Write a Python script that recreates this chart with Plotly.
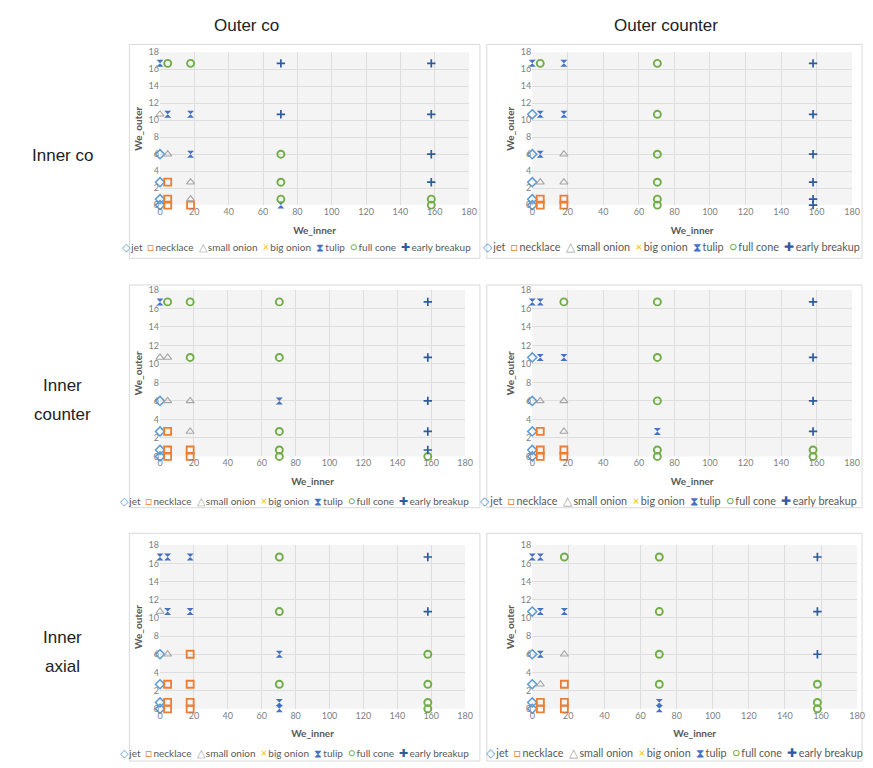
import plotly.graph_objects as go

W, H = 873, 768

# ---------------- data ----------------
we_inner = [0, 4.5, 17.8, 70.4, 158]          # x levels
we_outer = [0, 0.7, 2.7, 6.0, 10.7, 16.7]     # y levels
x_ticks = [0, 20, 40, 60, 80, 100, 120, 140, 160, 180]
y_ticks = [0, 2, 4, 6, 8, 10, 12, 14, 16, 18]

regimes = ["jet", "necklace", "small onion", "big onion", "tulip", "full cone", "early breakup"]

col_titles = ["Outer co", "Outer counter"]
row_titles = [["Inner co"], ["Inner", "counter"], ["Inner", "axial"]]

# rows: we_outer (low -> high), columns: we_inner
map_co_co = [
    ["jet", "necklace", "necklace", "tulip", "full cone"],
    ["jet", "necklace", "small onion", "full cone", "full cone"],
    ["jet", "necklace", "small onion", "full cone", "early breakup"],
    ["jet", "small onion", "tulip", "full cone", "early breakup"],
    ["small onion", "tulip", "tulip", "early breakup", "early breakup"],
    ["tulip", "full cone", "full cone", "early breakup", "early breakup"],
]
map_co_counter = [
    ["jet", "necklace", "necklace", "full cone", "early breakup"],
    ["jet", "necklace", "necklace", "full cone", "early breakup"],
    ["jet", "small onion", "small onion", "full cone", "early breakup"],
    ["jet", "tulip", "small onion", "full cone", "early breakup"],
    ["jet", "tulip", "tulip", "full cone", "early breakup"],
    ["tulip", "full cone", "tulip", "full cone", "early breakup"],
]
map_counter_co = [
    ["jet", "necklace", "necklace", "full cone", "full cone"],
    ["jet", "necklace", "necklace", "full cone", "early breakup"],
    ["jet", "necklace", "small onion", "full cone", "early breakup"],
    ["jet", "small onion", "small onion", "tulip", "early breakup"],
    ["small onion", "small onion", "full cone", "full cone", "early breakup"],
    ["tulip", "full cone", "full cone", "full cone", "early breakup"],
]
map_counter_counter = [
    ["jet", "necklace", "necklace", "full cone", "full cone"],
    ["jet", "necklace", "necklace", "full cone", "full cone"],
    ["jet", "necklace", "small onion", "tulip", "early breakup"],
    ["jet", "small onion", "small onion", "full cone", "early breakup"],
    ["jet", "tulip", "tulip", "full cone", "early breakup"],
    ["tulip", "tulip", "full cone", "full cone", "early breakup"],
]
map_axial_co = [
    ["jet", "necklace", "necklace", "tulip", "full cone"],
    ["jet", "necklace", "necklace", "tulip", "full cone"],
    ["jet", "necklace", "necklace", "full cone", "full cone"],
    ["jet", "small onion", "necklace", "tulip", "full cone"],
    ["small onion", "tulip", "tulip", "full cone", "early breakup"],
    ["tulip", "tulip", "tulip", "full cone", "early breakup"],
]
map_axial_counter = [
    ["jet", "necklace", "necklace", "tulip", "full cone"],
    ["jet", "necklace", "necklace", "tulip", "full cone"],
    ["jet", "small onion", "necklace", "full cone", "full cone"],
    ["jet", "tulip", "small onion", "full cone", "early breakup"],
    ["jet", "tulip", "tulip", "full cone", "early breakup"],
    ["tulip", "tulip", "full cone", "full cone", "early breakup"],
]

panels = [map_co_co, map_co_counter,
          map_counter_co, map_counter_counter,
          map_axial_co, map_axial_counter]

# ---------------- styles ----------------
style = {
    "jet":           dict(symbol="diamond-open",     color="#5B9BD5", size=7, lw=1.5),
    "necklace":      dict(symbol="square-open",      color="#ED7D31", size=7, lw=1.8),
    "small onion":   dict(symbol="triangle-up-open", color="#A5A5A5", size=7, lw=1.1),
    "big onion":     dict(symbol="x-thin-open",      color="#FFC000", size=7, lw=2.0),
    "tulip":         dict(symbol="hourglass",        color="#4472C4", size=7, lw=0),
    "full cone":     dict(symbol="circle-open",      color="#70AD47", size=7, lw=1.9),
    "early breakup": dict(symbol="cross-thin-open",  color="#2E5A9E", size=6, lw=1.7),
}
legend_glyph = {"jet": "◇", "necklace": "□", "small onion": "△", "big onion": "×",
                "tulip": "⧗", "full cone": "○", "early breakup": "✚"}

# panel pixel geometry: plot area (x0, x1, y_top, y_bottom) and outer box
plot_px = [(159, 472, 47, 202), (536, 860, 47, 202),
           (159, 468, 288, 457), (536, 860, 288, 457),
           (159, 468, 547, 713), (536, 865, 547, 713)]
box_px = [(128, 483, 39, 256), (490, 870, 39, 256),
          (128, 483, 283, 509), (490, 870, 283, 509),
          (128, 483, 535, 766), (490, 870, 535, 766)]
legend_px = [(297, 244), (677, 244), (295, 502), (674, 502), (295, 757), (680, 757)]
legend_size = [10, 10.8, 10, 10.8, 10, 10.8]

FONT = "Lato, 'Open Sans', sans-serif"
fig = go.Figure()
layout = dict(width=W, height=H, margin=dict(l=0, r=0, t=0, b=0),
              paper_bgcolor="white", plot_bgcolor="#f4f4f4", showlegend=False)
shapes, annotations = [], []

for i, grid in enumerate(panels):
    k = i + 1
    xa = "x" if k == 1 else f"x{k}"
    ya = "y" if k == 1 else f"y{k}"
    for reg in regimes:
        xs, ys = [], []
        for r, row in enumerate(grid):
            for c, val in enumerate(row):
                if val == reg:
                    xs.append(we_inner[c])
                    ys.append(we_outer[r])
        s = style[reg]
        fig.add_trace(go.Scatter(
            x=xs, y=ys, mode="markers", name=reg, xaxis=xa, yaxis=ya,
            cliponaxis=False, showlegend=False,
            marker=dict(symbol=s["symbol"], size=s["size"], color=s["color"],
                        line=dict(color=s["color"], width=s["lw"]))))
    x0, x1, yt, yb = plot_px[i]
    axis_common = dict(showgrid=True, gridcolor="#dedede", gridwidth=1, zeroline=False,
                       showline=False, ticks="", tickfont=dict(family=FONT, size=9, color="#808080"))
    layout["xaxis" if k == 1 else f"xaxis{k}"] = dict(
        domain=[x0 / W, x1 / W], anchor=ya, range=[0, 180], tickvals=x_ticks,
        title=dict(text="<b>We_inner</b>", font=dict(family=FONT, size=10, color="#595959"), standoff=10),
        **axis_common)
    layout["yaxis" if k == 1 else f"yaxis{k}"] = dict(
        domain=[1 - yb / H, 1 - yt / H], anchor=xa, range=[0, 18], tickvals=y_ticks,
        title=dict(text="<b>We_outer</b>", font=dict(family=FONT, size=10, color="#595959"), standoff=4),
        **axis_common)
    bx0, bx1, by0, by1 = box_px[i]
    shapes.append(dict(type="rect", xref="paper", yref="paper",
                       x0=bx0 / W, x1=min(bx1, W - 1) / W, y0=1 - min(by1, H - 1) / H, y1=1 - by0 / H,
                       line=dict(color="#d9d9d9", width=1), fillcolor="rgba(0,0,0,0)", layer="below"))
    gsz = legend_size[i] + 1
    parts = []
    for reg in regimes:
        parts.append(f"<span style='color:{style[reg]['color']};font-size:{gsz}px'>{legend_glyph[reg]}</span>\u2009{reg}")
    lx, ly = legend_px[i]
    annotations.append(dict(text="\u00a0\u00a0".join(parts), xref="paper", yref="paper",
                            x=lx / W, y=1 - ly / H, xanchor="center", yanchor="middle",
                            showarrow=False, font=dict(family=FONT, size=legend_size[i], color="#595959")))

# column titles
for t, cx in zip(col_titles, [247, 671]):
    annotations.append(dict(text=t, xref="paper", yref="paper", x=cx / W, y=1 - 20 / H,
                            xanchor="center", yanchor="middle", showarrow=False,
                            font=dict(family="Liberation Sans, Arial, sans-serif", size=17, color="#222222")))
# row titles
row_y = [[152], [385, 414], [641, 670]]
for lines, ys in zip(row_titles, row_y):
    for t, yy in zip(lines, ys):
        annotations.append(dict(text=t, xref="paper", yref="paper", x=60 / W, y=1 - yy / H,
                                xanchor="center", yanchor="middle", showarrow=False,
                                font=dict(family="Liberation Sans, Arial, sans-serif", size=17, color="#222222")))

layout["shapes"] = shapes
layout["annotations"] = annotations
fig.update_layout(**layout)
fig.write_html("out.html", config={"displayModeBar": False},
               post_script="document.body.style.margin='0';document.body.style.overflow='hidden';")
